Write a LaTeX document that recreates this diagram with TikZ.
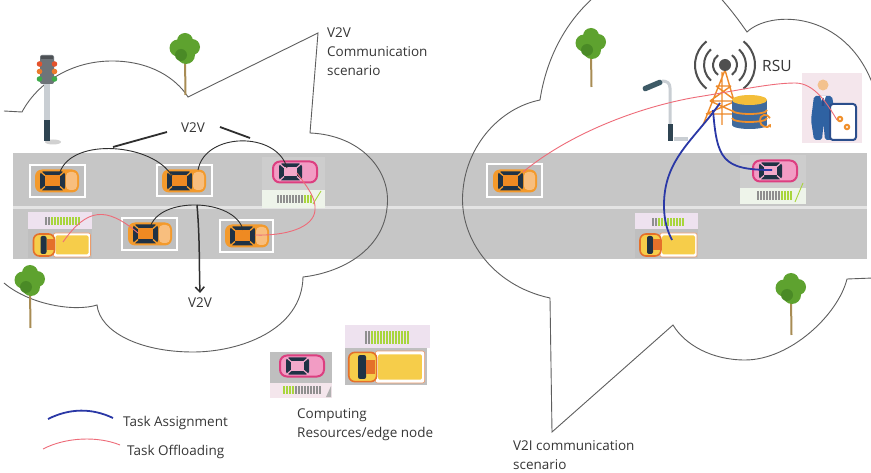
\documentclass[tikz,border=0pt]{standalone}
\usepackage{fontspec}
\setmainfont{Open Sans}
\usetikzlibrary{arrows.meta}

\definecolor{roadgray}{HTML}{C6C6C6}
\definecolor{lanewhite}{HTML}{E4E4E4}
\definecolor{boxgray}{HTML}{BFBFBF}
\definecolor{panelgray}{HTML}{CDCDCD}
\definecolor{panelgreen}{HTML}{EEF4EA}
\definecolor{panelpurple}{HTML}{EEE2EF}
\definecolor{panelpink}{HTML}{F4E6EC}
\definecolor{navy}{HTML}{1F3245}
\definecolor{carorange}{HTML}{F39A2C}
\definecolor{carlight}{HTML}{F8BE7E}
\definecolor{roofor}{HTML}{EF8A22}
\definecolor{pinkedge}{HTML}{DC3F80}
\definecolor{pinkbody}{HTML}{F29CC4}
\definecolor{pinkroof}{HTML}{F3A9CB}
\definecolor{vanyellow}{HTML}{F6CD4A}
\definecolor{vanorange}{HTML}{E4702A}
\definecolor{batgreen}{HTML}{A8D53C}
\definecolor{batgray}{HTML}{8F8F8F}
\definecolor{offred}{HTML}{EE6B78}
\definecolor{assignblue}{HTML}{2A38A6}
\definecolor{cloudline}{HTML}{5E5E5E}
\definecolor{linkdark}{HTML}{2E2E2E}
\definecolor{leaf}{HTML}{5EA22F}
\definecolor{leafdark}{HTML}{4A8A26}
\definecolor{trunkc}{HTML}{A88C54}
\definecolor{textgray}{HTML}{363636}
\definecolor{polelight}{HTML}{C9CED3}
\definecolor{poledark}{HTML}{2F4452}
\definecolor{headgray}{HTML}{6E7479}
\definecolor{tlred}{HTML}{E4522C}
\definecolor{tlorange}{HTML}{EB7B2C}
\definecolor{tlgreen}{HTML}{3DAA4A}
\definecolor{lampslate}{HTML}{3D5A66}
\definecolor{towerorange}{HTML}{EE8A2A}
\definecolor{signalgray}{HTML}{4F4F4F}
\definecolor{dbblue}{HTML}{3F6A9C}
\definecolor{dbyellow}{HTML}{F3BE3A}
\definecolor{dborange}{HTML}{F08F2A}
\definecolor{suit}{HTML}{2F62A2}
\definecolor{skin}{HTML}{F3C28E}
\definecolor{tabletblue}{HTML}{2B4E8C}

\tikzset{
  cloud/.style={draw=cloudline, line width=0.9pt},
  v2vlink/.style={draw=linkdark, line width=0.9pt},
  pointer/.style={draw=linkdark, line width=1.8pt},
  v2varrow/.style={draw=linkdark, line width=1.5pt, -{Straight Barb[length=5pt,width=9pt]}},
  offload/.style={draw=offred, line width=0.9pt},
  assign/.style={draw=assignblue, line width=1.8pt},
  txt/.style={font=\fontsize{13.5}{16}\selectfont, text=textgray, inner sep=0pt, anchor=base west},
  carframe/.style={fill=boxgray, draw=white, line width=2pt},
  pics/orangecar/.style={code={
    \fill[carorange, rounded corners=7pt] (-22,-11.5) rectangle (22,11.5);
    \fill[carlight, rounded corners=4pt] (9,-9) rectangle (20,9);
    \fill[navy, rounded corners=3pt] (-17,-9.5) rectangle (8,9.5);
    \fill[roofor] (-12,-5.5) rectangle (3,5.5);
    \draw[carorange, line width=1.3pt] (-12,-5.5) -- (-16.5,-9.5) (3,-5.5) -- (7.5,-9.5)
      (-12,5.5) -- (-16.5,9.5) (3,5.5) -- (7.5,9.5);
  }},
  pics/pinkcar/.style={code={
    \filldraw[fill=pinkbody, draw=pinkedge, line width=2pt, rounded corners=7pt] (-22,-10.5) rectangle (22,10.5);
    \fill[navy, rounded corners=3pt] (-16,-8.5) rectangle (7,8.5);
    \fill[pinkroof] (-11,-4.5) rectangle (2,4.5);
    \draw[pinkroof, line width=1.2pt] (-11,-4.5) -- (-15.5,-8.5) (2,-4.5) -- (6.5,-8.5)
      (-11,4.5) -- (-15.5,8.5) (2,4.5) -- (6.5,8.5);
  }},
  pics/van/.style={code={
    \filldraw[fill=white, draw=vanorange!70, line width=0.6pt, rounded corners=2pt] (-8,-12) rectangle (29,12);
    \fill[vanyellow, rounded corners=1.5pt] (-6,-9.5) rectangle (27,9.5);
    \filldraw[fill=vanyellow, draw=vanorange, line width=1.6pt, rounded corners=6pt] (-28,-11) rectangle (-7,11);
    \fill[navy, rounded corners=2pt] (-21,-9) rectangle (-15,9);
    \fill[vanorange] (-15,-5.5) rectangle (-8,5.5);
  }}
}

% battery gauge: x, y, height, count1, colour1, count2, colour2
\newcommand{\gauge}[7]{%
  \foreach \i in {1,...,#4} \fill[#5] ({#1+(\i-1)*3},#2) rectangle ++(2.1,#3);
  \foreach \i in {1,...,#6} \fill[#7] ({#1+(#4+\i-1)*3},#2) rectangle ++(2.1,#3);
}

% tree: crown centre x, y, trunk foot y
\newcommand{\sapling}[3]{%
  \draw[trunkc, line width=2pt] (#1,#2+8) -- (#1+0.5,#3);
  \fill[leaf] (#1-7,#2-2) circle (8.5);
  \fill[leaf] (#1+7,#2-3) circle (8);
  \fill[leaf] (#1,#2-9) circle (8);
  \fill[leaf] (#1+1,#2+5) circle (9);
  \fill[leafdark] (#1-4,#2+5) circle (6);
}

\begin{document}
\begin{tikzpicture}[x=1pt,y=-1pt]
\useasboundingbox (0,0) rectangle (871,473);
\fill[white] (0,0) rectangle (871,473);
\clip (0,0) rectangle (871,473);

% road with lane divider
\fill[roadgray] (13,153) rectangle (867,259);
\fill[lanewhite] (13,206.5) rectangle (867,209);

% V2V cloud
\draw[cloud] (4,111) -- (22,112)
  .. controls (38,82) and (72,61) .. (112,61)
  .. controls (150,61) and (176,78) .. (188,97)
  -- (318,33) -- (310,133)
  .. controls (360,135) and (392,170) .. (387,208)
  .. controls (383,248) and (345,272) .. (303,277)
  .. controls (302,330) and (240,352) .. (193,352)
  .. controls (140,352) and (100,332) .. (97,305)
  .. controls (75,312) and (30,305) .. (4,283);

% V2I cloud
\draw[cloud] (873,278) -- (847,279)
  .. controls (838,315) and (790,360) .. (745,360)
  .. controls (712,360) and (685,345) .. (673,325)
  -- (552,432) -- (550,298)
  .. controls (490,285) and (458,235) .. (463,190)
  .. controls (467,145) and (500,108) .. (540,100)
  .. controls (546,60) and (565,20) .. (600,-8);
\draw[cloud] (715,-8) .. controls (730,8) and (740,22) .. (747,32)
  .. controls (770,10) and (845,10) .. (873,85);

% trees
\sapling{185}{50}{95}
\sapling{30}{282}{328}
\sapling{591}{45}{87}
\sapling{791}{290}{335}

% traffic light
\fill[black!18] (53,142) ellipse (8 and 2.5);
\fill[polelight] (44,83) rectangle (50,122);
\fill[poledark] (44,120) rectangle (50,141);
\fill[headgray, rounded corners=2pt] (40,55) rectangle (54,84);
\fill[headgray!70!black] (41,56) rectangle (53,59);
\foreach \yy/\cc in {64/tlred,71.5/tlorange,79/tlgreen} {
  \fill[\cc] (39.5,\yy) circle (2.8);
  \fill[\cc] (54.5,\yy) circle (2.8);
}

% street lamp
\fill[polelight] (674,137) rectangle (688,141);
\draw[polelight, line width=3pt] (670,141) -- (670,88) .. controls (670,83) and (667,81) .. (662,81);
\fill[poledark] (668,124) rectangle (673,141);
\fill[lampslate, rounded corners=2pt] (642,87) -- (661,79) -- (663,84) -- (644,92) -- cycle;

% RSU tower and signal
\draw[towerorange, line width=1.4pt] (725,70) -- (703,125) (725,70) -- (741,125) (722,72) -- (722,125)
  (716,86) -- (731,86) (710,101) -- (736,101) (706,114) -- (739,114)
  (716,86) -- (736,101) (731,86) -- (710,101) (710,101) -- (739,114) (736,101) -- (706,114);
\fill[signalgray] (725,65) circle (6);
\foreach \r/\a in {12/55, 21/48, 30/52} {
  \draw[signalgray, line width=2pt] (725,65) ++(180-\a:\r) arc (180-\a:180+\a:\r);
  \draw[signalgray, line width=2pt] (725,65) ++(-\a:\r) arc (-\a:\a:\r);
}

% edge server database
\fill[dbblue] (732,100) rectangle (767,125);
\fill[dbblue] (749.5,125) ellipse (17.5 and 4);
\draw[dborange, line width=1.8pt] (732,110) .. controls (732,115.3) and (767,115.3) .. (767,110);
\draw[dborange, line width=1.8pt] (732,118) .. controls (732,123.3) and (767,123.3) .. (767,118);
\fill[dbyellow] (749.5,100) ellipse (17.5 and 5);
\draw[dborange, line width=1.8pt, -{Triangle[length=3pt,width=4pt]}]
  (770,118) .. controls (767,113) and (760,114) .. (760,121) .. controls (760,127) and (768,128) .. (771,124);

% operator with tablet
\fill[panelpink] (802,73) rectangle (862,143);
\fill[suit, rounded corners=2pt] (814,96) -- (832,96) -- (836,120) -- (833,140) -- (825,140) -- (823.5,124) -- (822,140) -- (814,140) -- (811,120) -- cycle;
\fill[white] (820,96) -- (826,96) -- (823,104) -- cycle;
\fill[tabletblue] (822.3,98) -- (823.7,98) -- (824.3,106) -- (821.7,106) -- cycle;
\fill[skin] (823,85) circle (5.5);
\filldraw[fill=white, draw=tabletblue, line width=2pt, rounded corners=3pt] (830,104) rectangle (856,140);
\fill[dborange] (840,119) circle (3.3);
\fill[white] (840,119) circle (1.2);
\fill[dborange] (847,127) circle (3.3);
\fill[white] (847,127) circle (1.2);

% vehicles: orange cars in framed slots
\draw[carframe] (30,165) rectangle (85,197);
\draw[carframe] (157,165) rectangle (212,196);
\draw[carframe] (122,218) rectangle (177,250);
\draw[carframe] (220,220) rectangle (273,252);
\draw[carframe] (487,164) rectangle (542,197);
\coordinate (carA) at (57,181);
\coordinate (carB) at (184,181);
\coordinate (carE) at (150,234);
\coordinate (carF) at (247,236);
\coordinate (carG) at (515,181);
\foreach \c in {carA,carB,carE,carF,carG} \pic at (\c) {orangecar};

% pink cars with spare-capacity gauges
\fill[panelgray] (262,157) rectangle (325,190);
\fill[panelgreen] (262,190) rectangle (325,208);
\gauge{277}{195}{8}{9}{batgray}{3}{batgreen}
\draw[batgreen, line width=0.9pt] (313,204) -- (321,191);
\coordinate (carC) at (295,172);
\pic at (carC) {pinkcar};

\fill[panelgray] (740,155) rectangle (806,188);
\fill[panelgreen] (740,188) rectangle (806,204);
\gauge{757}{191}{9}{8}{batgray}{4}{batgreen}
\draw[batgreen, line width=0.9pt] (795,202) -- (803,183);
\coordinate (carH) at (775,171);
\pic at (carH) {pinkcar};

% vans with gauges
\fill[panelpurple] (28,212) rectangle (92,229);
\fill[boxgray] (28,229) rectangle (92,258);
\gauge{45}{217}{8}{2}{batgray}{10}{batgreen}
\coordinate (vanD) at (61.5,245);
\pic at (vanD) {van};

\fill[panelpurple] (635,213) rectangle (698,229);
\fill[boxgray] (635,229) rectangle (698,258);
\gauge{652}{218}{8}{2}{batgray}{9}{batgreen}
\coordinate (vanI) at (668,245);
\pic at (vanI) {van};

% legend of computing resources
\fill[boxgray] (270,352) rectangle (332,383);
\fill[panelpink] (270,383) rectangle (332,398);
\gauge{283}{386}{8}{4}{batgreen}{9}{batgray}
\fill[batgray!70] (326,397) -- (331,397) -- (331,386) -- cycle;
\coordinate (carL) at (302,366);
\pic at (carL) {pinkcar};

\fill[panelpurple] (345,325) rectangle (430,348);
\fill[boxgray] (345,348) rectangle (427,385);
\gauge{365}{331}{13}{2}{batgray}{13}{batgreen}
\coordinate (vanL) at (386,367);
\pic[scale=1.33] at (vanL) {van};

% connector end points
\coordinate (pA) at (60,172);
\coordinate (pB1) at (172,176);
\coordinate (pB2) at (198,170);
\coordinate (pC1) at (287,168);
\coordinate (pC2) at (297,173);
\coordinate (pD) at (63,242);
\coordinate (pE1) at (150,228);
\coordinate (pE2) at (138,233);
\coordinate (pF1) at (243,230);
\coordinate (pF2) at (255,235);
\coordinate (wC) at (315,210);
\coordinate (aTop) at (197,205);
\coordinate (aEnd) at (200,293);
\coordinate (ptL1) at (113,147);
\coordinate (ptL2) at (167,132);
\coordinate (ptR1) at (220,127);
\coordinate (ptR2) at (250,138);
\coordinate (pG) at (523,172);
\coordinate (wR1) at (697,97);
\coordinate (wR2) at (795,83);
\coordinate (gear) at (837,120);
\coordinate (rsuA) at (720,103);
\coordinate (rsuB) at (713,110);
\coordinate (wI) at (664,205);
\coordinate (pI) at (672,240);
\coordinate (pH) at (772,170);

% V2V links
\draw[v2vlink] (pA) .. controls (72.8,136.9) and (153.3,143.6) .. (pB1);
\draw[v2vlink] (pB2) .. controls (205,132) and (277,131) .. (pC1);
\draw[v2vlink] (pE1) .. controls (158,196) and (235,198) .. (pF1);
\draw[pointer] (ptL1) -- (ptL2);
\draw[pointer] (ptR1) -- (ptR2);
\draw[v2varrow] (aTop) .. controls (200,240) and (199,265) .. (aEnd);

% task offloading links
\draw[offload] (pD) .. controls (87,208) and (106,206) .. (pE2);
\draw[offload] (pC2) .. controls (308,188) and (316,198) .. (wC)
  .. controls (314,228) and (285,236) .. (pF2);
\draw[offload] (pG) .. controls (569,134) and (638,107) .. (wR1)
  .. controls (730,92) and (770,83) .. (wR2)
  .. controls (815,83) and (828,105) .. (gear);

% task assignment links
\draw[assign] (rsuA) .. controls (694,140) and (664,159) .. (wI)
  .. controls (664,222) and (668,232) .. (pI);
\draw[assign] (rsuB) .. controls (717,159) and (722,170) .. (pH);

% legend lines
\coordinate (lgB1) at (48,419);
\coordinate (lgB2) at (113,418);
\coordinate (lgR1) at (43,449);
\coordinate (lgR2) at (120,445);
\draw[assign] (lgB1) .. controls (70,408) and (92,408) .. (lgB2);
\draw[offload] (lgR1) .. controls (66,437) and (98,436) .. (lgR2);

% texts
\node[txt] (scen1) at (327,38) {V2V};
\node[txt] (scen2) at (327,57) {Communication};
\node[txt] (scen3) at (327,76) {scenario};
\node[txt, anchor=base] (v2vtop) at (193,133) {V2V};
\node[txt, anchor=base] (v2vbot) at (200,308) {V2V};
\node[txt, font=\fontsize{15.5}{18}\selectfont] (rsu) at (762,72) {RSU};
\node[txt] (leg1) at (123,426) {Task Assignment};
\node[txt] (leg2) at (127,455) {Task Offloading};
\node[txt] (comp1) at (297,418) {Computing};
\node[txt] (comp2) at (297,437) {Resources/edge node};
\node[txt] (v2i1) at (513,450) {V2I communication};
\node[txt] (v2i2) at (513,469) {scenario};
\end{tikzpicture}
\end{document}
